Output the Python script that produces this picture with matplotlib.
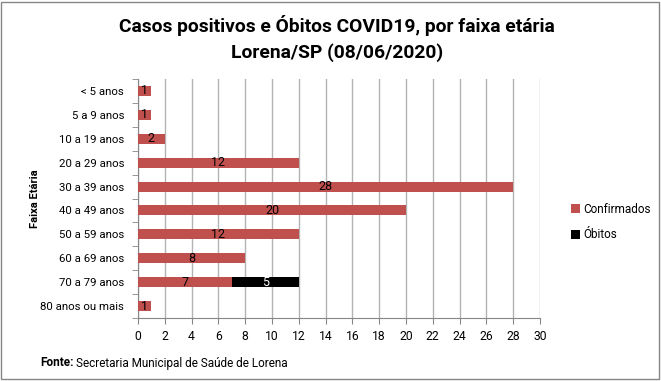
import matplotlib.pyplot as plt
import numpy as np
from matplotlib.patches import Rectangle

plt.rcParams['font.family'] = ['Roboto', 'DejaVu Sans']

# dados por faixa etaria
faixas = ['< 5 anos', '5 a 9 anos', '10 a 19 anos', '20 a 29 anos', '30 a 39 anos',
          '40 a 49 anos', '50 a 59 anos', '60 a 69 anos', '70 a 79 anos', '80 anos ou mais']
confirmados = [1, 1, 2, 12, 28, 20, 12, 8, 7, 1]
obitos = [0, 0, 0, 0, 0, 0, 0, 0, 5, 0]

fig = plt.figure(figsize=(6.61, 3.81), dpi=100)
ax = fig.add_axes([138/661, 1-318/381, 402/661, 239/381])

y = np.arange(len(faixas))
b1 = ax.barh(y, confirmados, height=0.42, color='#C0504D', label='Confirmados', zorder=3)
b2 = ax.barh(y, obitos, left=confirmados, height=0.42, color='black', label='Óbitos', zorder=3)

# rotulos dentro das barras
for i in range(len(faixas)):
    ax.text(confirmados[i]/2, y[i], str(confirmados[i]), ha='center', va='center',
            fontsize=9, color='black', zorder=4)
    if obitos[i] > 0:
        ax.text(confirmados[i] + obitos[i]/2, y[i], str(obitos[i]), ha='center', va='center',
                fontsize=9, color='white', zorder=4)

ax.set_ylim(len(faixas) - 0.5, -0.5)
ax.set_xlim(0, 30)
ax.set_xticks(range(0, 31, 2))
ax.set_yticks(y)
ax.set_yticklabels(faixas)
ax.set_yticks(np.arange(-0.5, len(faixas), 1), minor=True)
ax.tick_params(axis='y', which='major', length=0, labelsize=8.2, pad=10)
ax.tick_params(axis='y', which='minor', length=4, color='#868686', direction='out')
ax.tick_params(axis='x', length=4, color='#868686', labelsize=8.7, pad=5)
ax.xaxis.grid(True, color='#b3b3b3', linewidth=1, zorder=0)
for s in ['top', 'right']:
    ax.spines[s].set_visible(False)
ax.spines['left'].set_color('#868686')
ax.spines['bottom'].set_color('#868686')

ax.set_ylabel('Faixa Etária', fontsize=8, fontweight='bold')
ax.yaxis.set_label_coords(-0.245, 0.5)

fig.text(337/661, 1-26/381, 'Casos positivos e Óbitos COVID19, por faixa etária',
         ha='center', va='center', fontsize=13.9, fontweight='bold')
fig.text(337/661, 1-53/381, 'Lorena/SP (08/06/2020)',
         ha='center', va='center', fontsize=13.9, fontweight='bold')

fig.legend(handles=[b1, b2], loc='center left', bbox_to_anchor=(560/661, 1-222/381),
           frameon=False, fontsize=8.5, handlelength=0.8, handleheight=0.8,
           handletextpad=0.3, labelspacing=1.1)

# fonte: parte em negrito e o resto normal
r = fig.canvas.get_renderer()
t_fonte = fig.text(40/661, 1-363/381, 'Fonte:', fontsize=8.5, va='center', fontweight='bold')
w = t_fonte.get_window_extent(renderer=r).width
fig.text((40 + w + 2)/661, 1-363/381, 'Secretaria Municipal de Saúde de Lorena', fontsize=8.5, va='center')

fig.patches.append(Rectangle((0.002, 0.004), 0.995, 0.992, transform=fig.transFigure,
                             fill=False, edgecolor='#868686', linewidth=1))

fig.savefig('out.png', dpi=100)
